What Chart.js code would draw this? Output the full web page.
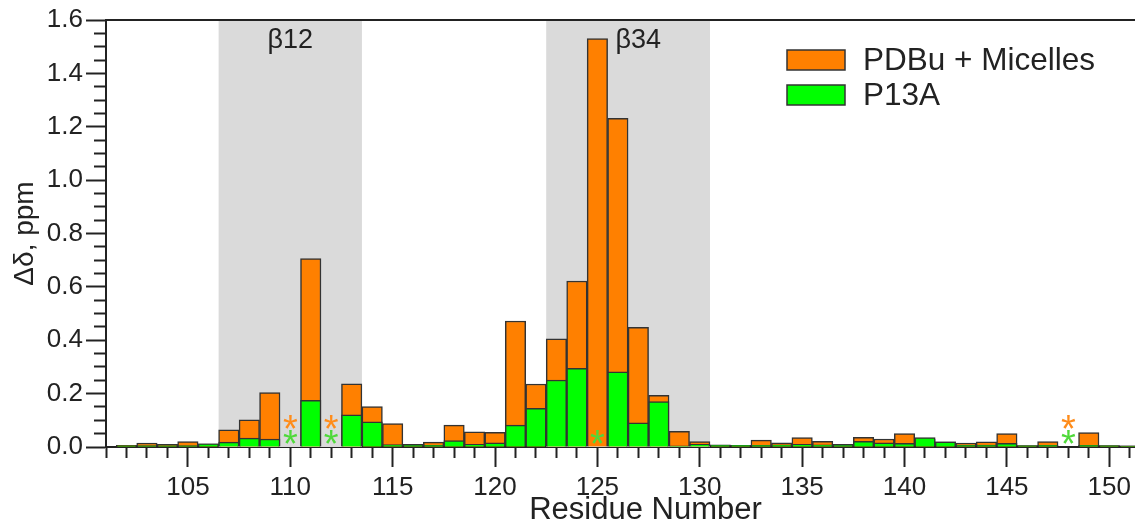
<!DOCTYPE html>
<html lang="en">
<head>
<meta charset="UTF-8">
<title>Chemical shift perturbation</title>
<script src="https://cdn.jsdelivr.net/npm/chart.js"></script>
<style>
    html, body { margin: 0; padding: 0; background: #fff; overflow: hidden; }
    .chart-wrap { position: relative; width: 1190px; height: 523px; }
</style>
</head>
<body>
<div class="chart-wrap"><canvas id="cspChart"></canvas></div>
<script>
    // Residue numbers and chemical shift changes (ppm); null = not assigned
    const residues = [102, 103, 104, 105, 106, 107, 108, 109, 110, 111,
                      112, 113, 114, 115, 116, 117, 118, 119, 120, 121,
                      122, 123, 124, 125, 126, 127, 128, 129, 130, 131,
                      132, 133, 134, 135, 136, 137, 138, 139, 140, 141,
                      142, 143, 144, 145, 146, 147, 148, 149, 150, 151];
    const pdbuMicelles = [0.006, 0.015, 0.010, 0.020, 0.012, 0.064, 0.102, 0.204, null, 0.706,
                          null, 0.237, 0.151, 0.088, 0.010, 0.018, 0.082, 0.057, 0.055, 0.472,
                          0.236, 0.405, 0.622, 1.530, 1.232, 0.448, 0.194, 0.059, 0.020, 0.008,
                          0.006, 0.026, 0.016, 0.035, 0.021, 0.010, 0.036, 0.030, 0.050, 0.030,
                          0.019, 0.015, 0.019, 0.050, 0.005, 0.020, null, 0.054, 0.005, 0.004];
    const p13a = [0.005, 0.005, 0.005, 0.005, 0.012, 0.018, 0.033, 0.030, null, 0.175,
                  null, 0.121, 0.094, 0.009, 0.007, 0.006, 0.024, 0.010, 0.016, 0.082,
                  0.145, 0.251, 0.295, null, 0.282, 0.091, 0.170, 0.004, 0.010, 0.006,
                  0.006, 0.006, 0.008, 0.010, 0.008, 0.006, 0.021, 0.016, 0.014, 0.035,
                  0.019, 0.006, 0.007, 0.014, 0.005, 0.006, null, 0.006, 0.005, 0.004];

    // residues without data in each sample, flagged with an asterisk
    const missingPdbu = [110, 112, 148];
    const missingP13a = [110, 112, 125, 148];

    // beta strand regions
    const sheetNames = ['β12', 'β34'];
    const sheetStart = [106.5, 122.5];
    const sheetEnd = [113.5, 130.5];
    const sheetLabelAt = [110, 127];

    const seriesNames = ['PDBu + Micelles', 'P13A'];
    const ORANGE = '#ff8000';
    const GREEN = '#00ff00';
    const INK = '#222222';
    const FONT = "'Liberation Sans', Arial, sans-serif";

    Chart.defaults.font.family = FONT;
    Chart.defaults.color = INK;

    const toPoints = vals => residues.map((r, i) => ({ x: r, y: vals[i] }));

    // grey bands + strand names behind the bars
    const sheetPlugin = {
        id: 'sheets',
        beforeDatasetsDraw(chart) {
            const { ctx, chartArea, scales } = chart;
            ctx.save();
            ctx.fillStyle = '#dadada';
            sheetNames.forEach((name, i) => {
                const x1 = scales.x.getPixelForValue(sheetStart[i]);
                const x2 = scales.x.getPixelForValue(sheetEnd[i]);
                ctx.fillRect(x1, chartArea.top, x2 - x1, chartArea.bottom - chartArea.top);
            });
            ctx.fillStyle = INK;
            ctx.font = '27px ' + FONT;
            ctx.textAlign = 'center';
            ctx.textBaseline = 'middle';
            sheetNames.forEach((name, i) => {
                ctx.fillText(name, scales.x.getPixelForValue(sheetLabelAt[i]), chartArea.top + 21);
            });
            ctx.restore();
        }
    };

    // asterisks for residues with no value
    const starPlugin = {
        id: 'stars',
        afterDatasetsDraw(chart) {
            const { ctx, scales } = chart;
            const y0 = scales.y.getPixelForValue(0);
            ctx.save();
            ctx.font = '38px ' + FONT;
            ctx.textAlign = 'center';
            ctx.textBaseline = 'alphabetic';
            const m = ctx.measureText('*');
            const mid = (m.actualBoundingBoxAscent - m.actualBoundingBoxDescent) / 2;
            const star = (res, lift, color) => {
                ctx.fillStyle = color;
                ctx.fillText('*', scales.x.getPixelForValue(res), y0 - lift + mid);
            };
            missingPdbu.forEach(r => star(r, 25, '#ff8c1a'));
            missingP13a.forEach(r => star(r, 10, '#4fd93a'));
            ctx.restore();
        }
    };

    // top frame line and the legend box
    const framePlugin = {
        id: 'frame',
        afterDraw(chart) {
            const { ctx, chartArea } = chart;
            ctx.save();
            ctx.strokeStyle = INK;
            ctx.lineWidth = 2;
            ctx.beginPath();
            ctx.moveTo(chartArea.left, chartArea.top);
            ctx.lineTo(chartArea.right, chartArea.top);
            ctx.stroke();

            const colors = [ORANGE, GREEN];
            ctx.font = '31.5px ' + FONT;
            ctx.textBaseline = 'middle';
            ctx.textAlign = 'left';
            seriesNames.forEach((name, i) => {
                const top = 50 + i * 35;
                ctx.fillStyle = colors[i];
                ctx.fillRect(787, top, 58, 20);
                ctx.lineWidth = 1.5;
                ctx.strokeStyle = '#333';
                ctx.strokeRect(787, top, 58, 20);
                ctx.fillStyle = INK;
                ctx.fillText(name, 863, top + 11);
            });
            ctx.restore();
        }
    };

    new Chart(document.getElementById('cspChart'), {
        type: 'bar',
        data: {
            datasets: [{
                label: seriesNames[0],
                data: toPoints(pdbuMicelles),
                backgroundColor: ORANGE,
                borderColor: '#333',
                borderWidth: 1.5,
                order: 1
            }, {
                label: seriesNames[1],
                data: toPoints(p13a),
                backgroundColor: GREEN,
                borderColor: '#333',
                borderWidth: 1.5,
                order: 0
            }]
        },
        options: {
            responsive: true,
            maintainAspectRatio: false,
            animation: false,
            layout: { padding: { top: 20, left: 0, right: 0, bottom: 0 } },
            datasets: {
                bar: { grouped: false, barPercentage: 1, categoryPercentage: 1 }
            },
            plugins: {
                legend: { display: false },
                tooltip: { enabled: false }
            },
            scales: {
                x: {
                    type: 'linear',
                    offset: false,
                    min: 101,
                    max: 153.7,
                    ticks: {
                        stepSize: 1,
                        autoSkip: false,
                        maxRotation: 0,
                        padding: 5,
                        font: { size: 26 },
                        color: INK,
                        callback: v => (v % 5 === 0 ? String(v) : '')
                    },
                    grid: {
                        offset: false,
                        drawOnChartArea: false,
                        tickLength: 20,
                        tickWidth: 2,
                        tickColor: INK,
                        tickBorderDash: c => (c.tick && c.tick.value % 5 === 0 ? [] : [10, 100])
                    },
                    border: { color: INK, width: 2 },
                    title: {
                        display: true,
                        text: 'Residue Number',
                        font: { size: 31, lineHeight: 0.8 },
                        padding: 0,
                        color: INK
                    },
                    afterFit: s => { s.height = 76; }
                },
                y: {
                    min: 0,
                    max: 1.6,
                    ticks: {
                        stepSize: 0.05,
                        autoSkip: false,
                        padding: 3,
                        font: { size: 26 },
                        color: INK,
                        callback: v => (Math.round(v * 100) % 20 === 0 ? v.toFixed(1) : '')
                    },
                    grid: {
                        drawOnChartArea: false,
                        tickLength: 20,
                        tickWidth: 2,
                        tickColor: INK,
                        tickBorderDash: c => (c.tick && Math.round(c.tick.value * 100) % 20 === 0 ? [] : [0, 8, 12, 100])
                    },
                    border: { color: INK, width: 2 },
                    title: {
                        display: true,
                        text: 'Δδ, ppm',
                        font: { size: 28, lineHeight: 1 },
                        padding: { top: 11, bottom: 0 },
                        color: INK
                    },
                    afterFit: s => { s.width = 106; }
                }
            }
        },
        plugins: [sheetPlugin, starPlugin, framePlugin]
    });
</script>
</body>
</html>
